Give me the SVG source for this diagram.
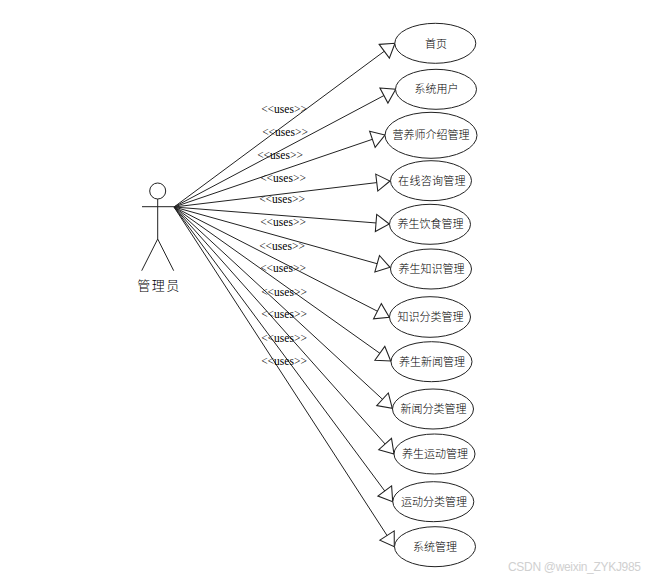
<svg xmlns="http://www.w3.org/2000/svg" width="653" height="581" viewBox="0 0 653 581">
<style>
.uc{fill:#fff;stroke:#222;stroke-width:1}
.t{font-family:"Noto Sans CJK SC","Liberation Sans",sans-serif;font-size:11px;font-weight:300;fill:#000;text-anchor:middle;dominant-baseline:central}
.c{fill:none;stroke:#222;stroke-width:1;marker-end:url(#tri)}
.u{font-family:"Liberation Serif",serif;font-size:11.5px;fill:#000;text-anchor:middle}
.a{fill:none;stroke:#222;stroke-width:1}
</style>
<defs>
<marker id="tri" markerUnits="userSpaceOnUse" markerWidth="16" markerHeight="20" viewBox="-1 -9 15 18" refX="12.5" refY="0" orient="auto">
<path d="M0,-8L12.5,0L0,8Z" fill="#fff" stroke="#222" stroke-width="1"/>
</marker>
</defs>
<rect width="653" height="581" fill="#fff"/>
<g id="connectors">
<path class="c" d="M174,207L395,43.3"/>
<path class="c" d="M174,207L395.7,89.3"/>
<path class="c" d="M174,207L385,135"/>
<path class="c" d="M174,207L390,181"/>
<path class="c" d="M174,207L389.3,224"/>
<path class="c" d="M174,207L390,267.3"/>
<path class="c" d="M174,207L389.3,317.3"/>
<path class="c" d="M174,207L390.7,361"/>
<path class="c" d="M174,207L392.3,408.3"/>
<path class="c" d="M174,207L394,454"/>
<path class="c" d="M174,207L392.7,501.7"/>
<path class="c" d="M174,207L394.3,546.7"/>
<text class="u" x="284" y="113">&lt;&lt;uses&gt;&gt;</text>
<text class="u" x="285" y="136">&lt;&lt;uses&gt;&gt;</text>
<text class="u" x="280" y="159">&lt;&lt;uses&gt;&gt;</text>
<text class="u" x="283" y="182">&lt;&lt;uses&gt;&gt;</text>
<text class="u" x="282" y="203">&lt;&lt;uses&gt;&gt;</text>
<text class="u" x="283" y="226">&lt;&lt;uses&gt;&gt;</text>
<text class="u" x="282" y="250">&lt;&lt;uses&gt;&gt;</text>
<text class="u" x="283" y="272">&lt;&lt;uses&gt;&gt;</text>
<text class="u" x="284" y="296">&lt;&lt;uses&gt;&gt;</text>
<text class="u" x="284" y="318">&lt;&lt;uses&gt;&gt;</text>
<text class="u" x="284" y="342">&lt;&lt;uses&gt;&gt;</text>
<text class="u" x="284" y="365">&lt;&lt;uses&gt;&gt;</text>
</g>
<g id="actor">
<circle class="a" cx="157.7" cy="191" r="8"/>
<path class="a" d="M157.7,199V239M142,206.7H174M141.7,270.7L157.7,239L173.7,270.7"/>
<text x="159" y="284" font-family="'Noto Sans CJK SC',sans-serif" font-size="13px" font-weight="300" letter-spacing="1.5" text-anchor="middle" dominant-baseline="central">管理员</text>
</g>
<g id="uc1"><ellipse class="uc" cx="435.3" cy="43.3" rx="40.5" ry="20"/><text class="t" x="436" y="42.5">首页</text></g>
<g id="uc2"><ellipse class="uc" cx="436" cy="89.3" rx="40.5" ry="20"/><text class="t" x="436.5" y="88">系统用户</text></g>
<g id="uc3"><ellipse class="uc" cx="431" cy="135.3" rx="46" ry="23"/><text class="t" x="431" y="134">营养师介绍管理</text></g>
<g id="uc4"><ellipse class="uc" cx="431" cy="180.7" rx="40.5" ry="20"/><text class="t" x="432" y="180" letter-spacing="0.3">在线咨询管理</text></g>
<g id="uc5"><ellipse class="uc" cx="430" cy="224.3" rx="40.5" ry="20"/><text class="t" x="430.5" y="223">养生饮食管理</text></g>
<g id="uc6"><ellipse class="uc" cx="431" cy="269" rx="40.5" ry="20"/><text class="t" x="431.5" y="268">养生知识管理</text></g>
<g id="uc7"><ellipse class="uc" cx="430" cy="317" rx="40.5" ry="20.3"/><text class="t" x="430.5" y="316">知识分类管理</text></g>
<g id="uc8"><ellipse class="uc" cx="431.5" cy="361.7" rx="40.5" ry="20"/><text class="t" x="432" y="361">养生新闻管理</text></g>
<g id="uc9"><ellipse class="uc" cx="433" cy="409" rx="40.5" ry="20"/><text class="t" x="433.5" y="408">新闻分类管理</text></g>
<g id="uc10"><ellipse class="uc" cx="434.5" cy="454" rx="40.5" ry="20"/><text class="t" x="435" y="453">养生运动管理</text></g>
<g id="uc11"><ellipse class="uc" cx="433.3" cy="501.7" rx="40.5" ry="20"/><text class="t" x="434" y="501">运动分类管理</text></g>
<g id="uc12"><ellipse class="uc" cx="435" cy="546.7" rx="40.5" ry="20"/><text class="t" x="435" y="546">系统管理</text></g>
<text x="508" y="571" font-family="'Liberation Sans',sans-serif" font-size="12px" fill="#d0d0d0" textLength="133">CSDN @weixin_ZYKJ985</text>
</svg>
